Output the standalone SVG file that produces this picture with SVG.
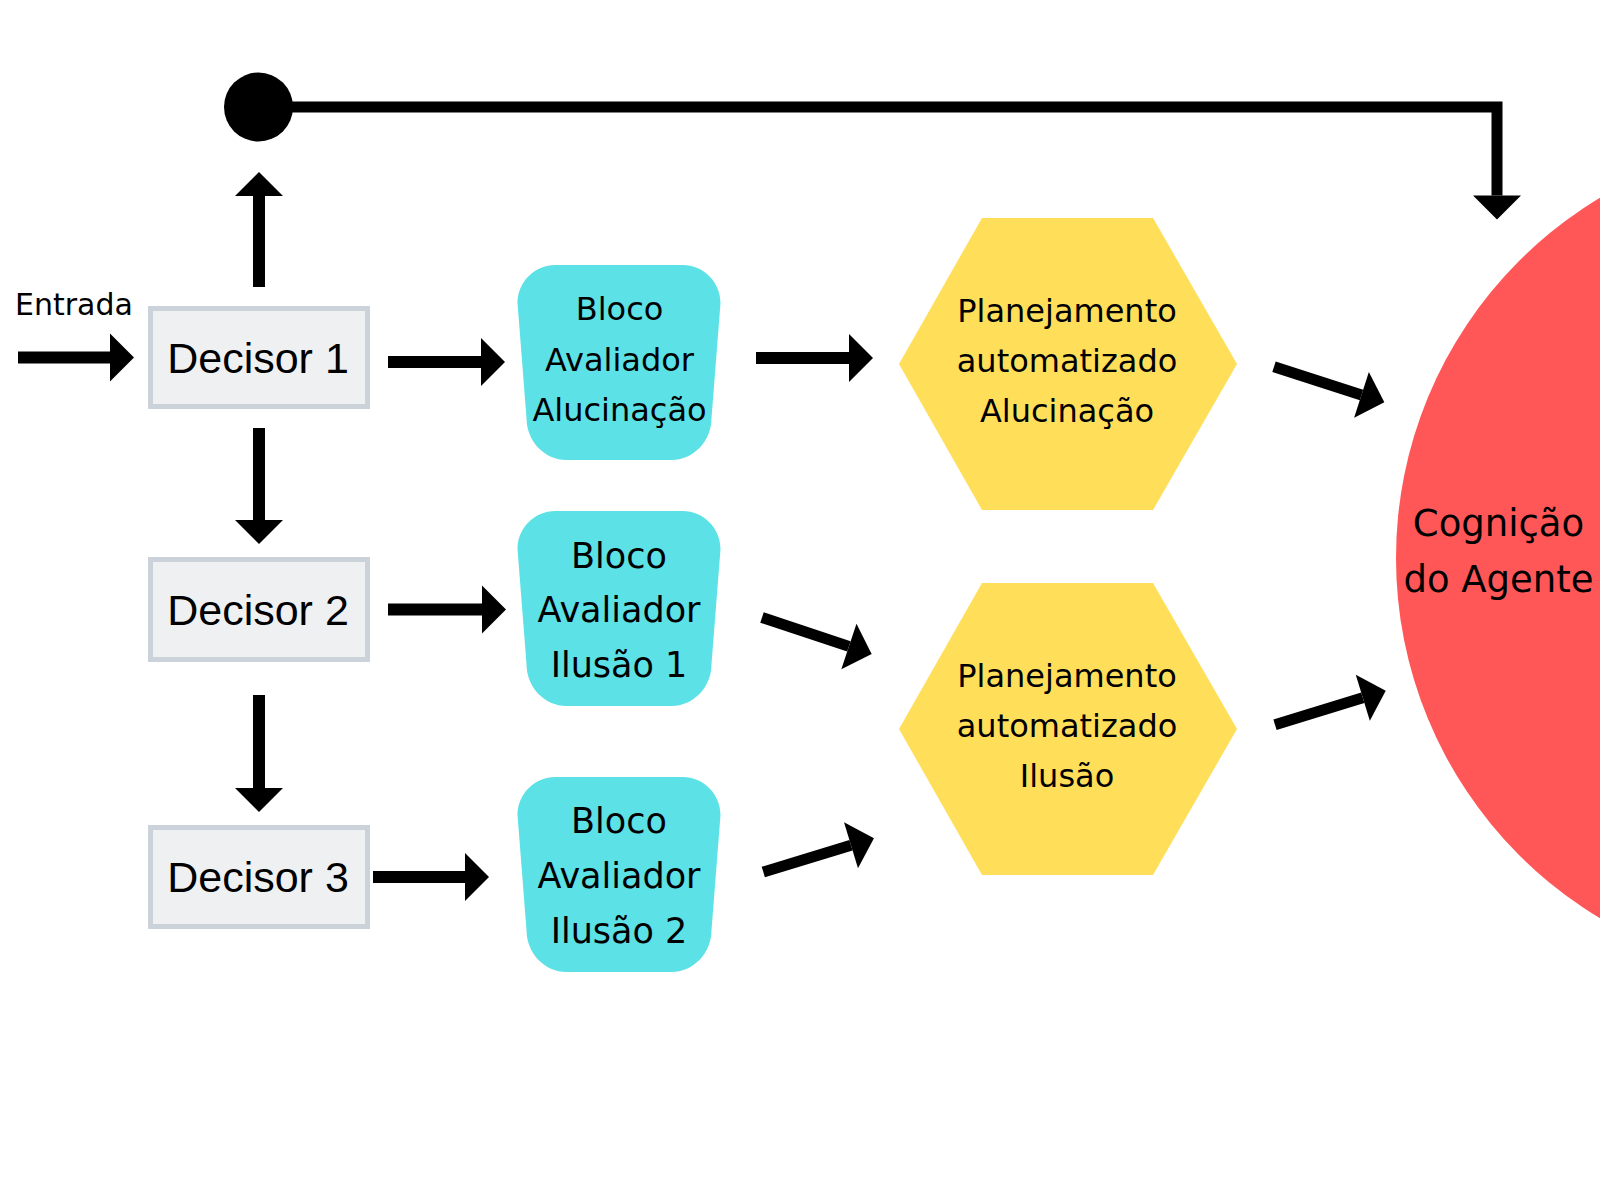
<svg xmlns="http://www.w3.org/2000/svg" width="1600" height="1200" viewBox="0 0 1600 1200">
<style>
.dec{fill:#EFF0F2;stroke:#CBD2D9;stroke-width:5}
.dtxt{font-family:"Liberation Sans",Arial,sans-serif;font-size:43px;fill:#000;text-anchor:middle}
.blk{fill:#5CE1E6}
.hex{fill:#FFDE59}
.t{font-family:"DejaVu Sans",sans-serif;fill:#000;text-anchor:middle}
.c{stroke:#000;stroke-width:12;fill:none;marker-end:url(#ah)}
</style>
<defs>
<marker id="ah" markerUnits="userSpaceOnUse" markerWidth="26" markerHeight="50" refX="0" refY="24" orient="auto" overflow="visible">
<path d="M0,0 L24,24 L0,48 Z" fill="#000"/>
</marker>
<path id="blkshape" d="M38,0 L165,0 C186,0 203,17 203,38 L194,153 C194,176 176,195 154,195 L49,195 C27,195 9,176 9,153 L0,38 C0,17 17,0 38,0 Z"/>
</defs>
<rect width="1600" height="1200" fill="#fff"/>

<g id="cognicao">
<circle cx="1816" cy="558" r="420" fill="#FF5757"/>
<text class="t" style="font-size:37px" x="1498.5" y="536">Cognição</text>
<text class="t" style="font-size:37px" x="1498.5" y="592">do Agente</text>
</g>

<g id="entrada">
<text x="15" y="315" style="font-family:'DejaVu Sans',sans-serif;font-size:30px">Entrada</text>
</g>

<g id="decisor1">
<rect class="dec" x="150.5" y="308.5" width="217" height="98"/>
<text class="dtxt" x="258" y="373">Decisor 1</text>
</g>
<g id="decisor2">
<rect class="dec" x="150.5" y="559.5" width="217" height="100"/>
<text class="dtxt" x="258" y="625">Decisor 2</text>
</g>
<g id="decisor3">
<rect class="dec" x="150.5" y="827.5" width="217" height="99"/>
<text class="dtxt" x="258" y="892">Decisor 3</text>
</g>

<g id="bloco1">
<use href="#blkshape" class="blk" x="517.5" y="265"/>
<text class="t" style="font-size:32px" x="619.5" y="320">Bloco</text>
<text class="t" style="font-size:32px" x="619.5" y="370.5">Avaliador</text>
<text class="t" style="font-size:32px" x="619.5" y="420.5">Alucinação</text>
</g>
<g id="bloco2">
<use href="#blkshape" class="blk" x="517.5" y="511"/>
<text class="t" style="font-size:35px" x="619" y="567.5">Bloco</text>
<text class="t" style="font-size:35px" x="619" y="622">Avaliador</text>
<text class="t" style="font-size:35px" x="619" y="677">Ilusão 1</text>
</g>
<g id="bloco3">
<use href="#blkshape" class="blk" x="517.5" y="777"/>
<text class="t" style="font-size:35px" x="619" y="833">Bloco</text>
<text class="t" style="font-size:35px" x="619" y="887.5">Avaliador</text>
<text class="t" style="font-size:35px" x="619" y="942.5">Ilusão 2</text>
</g>

<g id="planejamento1">
<polygon class="hex" points="899,364 982,218 1153,218 1237,364 1153,510 982,510"/>
<text class="t" style="font-size:32px" x="1067" y="322">Planejamento</text>
<text class="t" style="font-size:32px" x="1067" y="371.5">automatizado</text>
<text class="t" style="font-size:32px" x="1067" y="421.5">Alucinação</text>
</g>
<g id="planejamento2">
<polygon class="hex" points="899,729 982,583 1153,583 1237,729 1153,875 982,875"/>
<text class="t" style="font-size:32px" x="1067" y="687">Planejamento</text>
<text class="t" style="font-size:32px" x="1067" y="736.5">automatizado</text>
<text class="t" style="font-size:32px" x="1067" y="786.5">Ilusão</text>
</g>

<g id="connectors">
<circle cx="258.5" cy="107" r="34.5" fill="#000"/>
<polyline points="258.5,107 1497,107 1497,195.5" style="stroke:#000;stroke-width:11;fill:none;stroke-linejoin:miter;marker-end:url(#ah)"/>
<line class="c" x1="18" y1="357.5" x2="110" y2="357.5"/>
<line class="c" x1="259" y1="287" x2="259" y2="196"/>
<line class="c" x1="388" y1="362" x2="481" y2="362"/>
<line class="c" x1="259" y1="428" x2="259" y2="520"/>
<line class="c" x1="388" y1="609.5" x2="482" y2="609.5"/>
<line class="c" x1="259" y1="695" x2="259" y2="788"/>
<line class="c" x1="373" y1="877" x2="465" y2="877"/>
<line class="c" x1="756" y1="358" x2="849" y2="358"/>
<line class="c" style="stroke-width:11" x1="762" y1="617.5" x2="848.9" y2="646.4"/>
<line class="c" style="stroke-width:11" x1="763.3" y1="872" x2="851" y2="845.3"/>
<line class="c" style="stroke-width:11" x1="1274" y1="366.7" x2="1361.5" y2="394.9"/>
<line class="c" style="stroke-width:11" x1="1275" y1="724.7" x2="1362.8" y2="697.8"/>
</g>
</svg>
